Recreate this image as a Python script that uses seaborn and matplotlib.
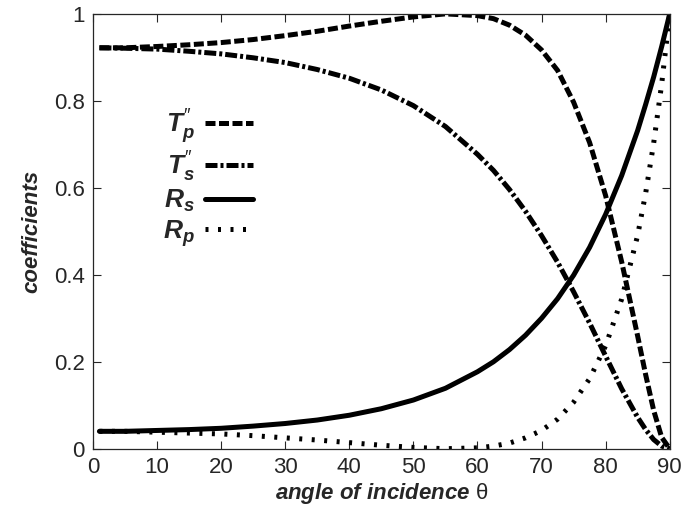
import matplotlib
matplotlib.use("Agg")
import matplotlib.pyplot as plt
import seaborn as sns

# angle of incidence (degrees) and curve values
angle = [1, 5, 10, 15, 20, 25, 30, 35, 40, 45, 50, 55, 60, 62.5, 65, 67.5, 70, 72.5, 75, 77.5,
         80, 82.5, 85, 86.25, 87.5, 88.75, 90]
tp2 = [0.922, 0.922, 0.925, 0.929, 0.934, 0.941, 0.950, 0.960, 0.972, 0.983, 0.993, 1.000,
       0.996, 0.989, 0.974, 0.951, 0.917, 0.870, 0.797, 0.704, 0.582, 0.430, 0.259, 0.170,
       0.088, 0.026, 0.0]
ts2 = [0.922, 0.921, 0.919, 0.914, 0.908, 0.899, 0.888, 0.872, 0.852, 0.825, 0.789, 0.741,
       0.677, 0.640, 0.596, 0.546, 0.490, 0.429, 0.361, 0.289, 0.213, 0.138, 0.072, 0.044,
       0.021, 0.006, 0.0]
rs = [0.040, 0.040, 0.042, 0.044, 0.047, 0.052, 0.058, 0.066, 0.077, 0.092, 0.112, 0.139,
      0.177, 0.200, 0.228, 0.261, 0.300, 0.345, 0.399, 0.463, 0.539, 0.628, 0.732, 0.792,
      0.855, 0.925, 1.0]
rp = [0.040, 0.040, 0.038, 0.036, 0.034, 0.030, 0.025, 0.020, 0.014, 0.008, 0.003, 0.000,
      0.002, 0.006, 0.013, 0.025, 0.042, 0.068, 0.107, 0.161, 0.237, 0.344, 0.491, 0.588,
      0.703, 0.839, 1.0]

sns.set_style("ticks")
plt.rcParams['font.family'] = ['Liberation Sans', 'DejaVu Sans']
plt.rcParams['mathtext.fontset'] = 'custom'
plt.rcParams['mathtext.it'] = 'Liberation Sans:bold:italic'
plt.rcParams['mathtext.bf'] = 'Liberation Sans:bold:italic'
plt.rcParams['mathtext.rm'] = 'Liberation Sans'

fig = plt.figure(figsize=(6.89, 5.14), dpi=100)
ax = fig.add_axes([0.135, 0.127, 0.837, 0.846])

lw = 3.6
sns.lineplot(x=angle, y=tp2, ax=ax, color='black', lw=lw, linestyle=(0, (2.0, 0.7)),
             label='$T_p^{″}$')
sns.lineplot(x=angle, y=ts2, ax=ax, color='black', lw=lw, linestyle=(0, (2.4, 0.6, 0.6, 0.6)),
             label='$T_s^{″}$')
sns.lineplot(x=angle, y=rs, ax=ax, color='black', lw=lw, linestyle='-',
             label=r'$R_s$')
sns.lineplot(x=angle, y=rp, ax=ax, color='black', lw=lw, linestyle=(0, (0.6, 1.9)),
             label=r'$R_p$')

ax.set_xlim(0, 90)
ax.set_ylim(0, 1)
ax.set_xticks(range(0, 91, 10))
ax.set_yticks([0, 0.2, 0.4, 0.6, 0.8, 1])
ax.set_yticklabels(['0', '0.2', '0.4', '0.6', '0.8', '1'])
ax.tick_params(direction='in', length=6, width=0.8, labelsize=16, top=True, right=True, pad=6)
for s in ax.spines.values():
    s.set_linewidth(0.9)

ax.set_xlabel(r'angle of incidence $\mathrm{\theta}$', fontsize=16, fontweight='bold', style='italic',
              labelpad=2)
ax.set_ylabel('coefficients', fontsize=16, fontweight='bold', style='italic', labelpad=8)

leg = ax.legend(loc='upper left', bbox_to_anchor=(0.08, 0.84), frameon=False, markerfirst=False,
                fontsize=19, handlelength=1.8, handletextpad=0.4, labelspacing=0.15)

fig.savefig('out.png', dpi=100)
